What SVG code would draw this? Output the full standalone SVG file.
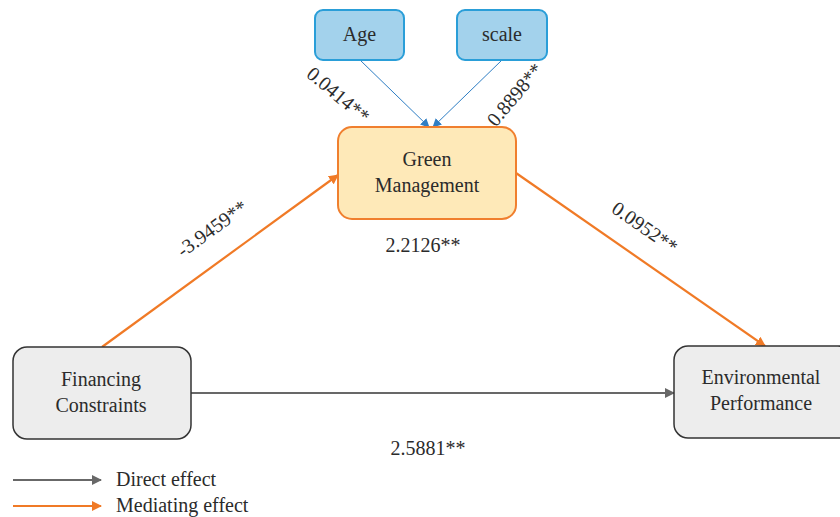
<svg xmlns="http://www.w3.org/2000/svg" width="840" height="517" viewBox="0 0 840 517">
  <style>
    text { font-family: "Liberation Serif", "Times New Roman", serif; fill: #2b2b2b; font-size: 20px; }
    .lbl { text-anchor: middle; }
    .blue { fill: #a3d2ec; stroke: #2a9ed8; stroke-width: 2; }
    .green { fill: #fee9b8; stroke: #f07f2e; stroke-width: 2; }
    .grey { fill: #ededed; stroke: #333333; stroke-width: 1.5; }
    .c-blue { stroke: #2e7ec4; stroke-width: 1; fill: none; }
    .c-orange { stroke: #f07a26; stroke-width: 2.2; fill: none; }
    .c-grey { stroke: #686868; stroke-width: 2.2; fill: none; }
  </style>
  <defs>
    <marker id="ahBlue" viewBox="0 0 10 10" refX="9" refY="5" markerWidth="9" markerHeight="9" orient="auto" markerUnits="userSpaceOnUse">
      <path d="M0,0 L10,5 L0,10 z" fill="#2e7ec4"/>
    </marker>
    <marker id="ahOrange" viewBox="0 0 10 10" refX="9" refY="5" markerWidth="10" markerHeight="10" orient="auto" markerUnits="userSpaceOnUse">
      <path d="M0,0 L10,5 L0,10 z" fill="#f07a26"/>
    </marker>
    <marker id="ahGrey" viewBox="0 0 10 10" refX="9" refY="5" markerWidth="10" markerHeight="10" orient="auto" markerUnits="userSpaceOnUse">
      <path d="M0,0 L10,5 L0,10 z" fill="#686868"/>
    </marker>
  </defs>

  <g id="connectors">
    <line class="c-blue" x1="360" y1="60" x2="429" y2="127" marker-end="url(#ahBlue)"/>
    <line class="c-blue" x1="502" y1="60" x2="433" y2="127" marker-end="url(#ahBlue)"/>
    <line class="c-orange" x1="102" y1="347" x2="338" y2="175" marker-end="url(#ahOrange)"/>
    <line class="c-orange" x1="516" y1="173" x2="765" y2="346" marker-end="url(#ahOrange)"/>
    <line class="c-grey" x1="191" y1="393" x2="674" y2="393" marker-end="url(#ahGrey)"/>
  </g>

  <g id="labels">
    <text class="lbl" transform="translate(334,100) rotate(40)">0.0414**</text>
    <text class="lbl" transform="translate(520,99) rotate(-50)">0.8898**</text>
    <text class="lbl" transform="translate(216,234) rotate(-36)">-3.9459**</text>
    <text class="lbl" transform="translate(641,233) rotate(35)">0.0952**</text>
    <text class="lbl" x="423" y="252">2.2126**</text>
    <text class="lbl" x="428" y="455">2.5881**</text>
  </g>

  <g id="age">
    <rect class="blue" x="315" y="10" width="89" height="50" rx="8"/>
    <text class="lbl" x="359.5" y="41">Age</text>
  </g>
  <g id="scale">
    <rect class="blue" x="457" y="10" width="90" height="50" rx="8"/>
    <text class="lbl" x="502" y="41">scale</text>
  </g>
  <g id="green-management">
    <rect class="green" x="338" y="127" width="178" height="92" rx="14"/>
    <text class="lbl" x="427" y="166">Green</text>
    <text class="lbl" x="427" y="192">Management</text>
  </g>
  <g id="financing-constraints">
    <rect class="grey" x="13" y="347" width="178" height="92" rx="14"/>
    <text class="lbl" x="101" y="386">Financing</text>
    <text class="lbl" x="101" y="412">Constraints</text>
  </g>
  <g id="environmental-performance">
    <rect class="grey" x="674" y="346" width="178" height="92" rx="14"/>
    <text class="lbl" x="761" y="384">Environmental</text>
    <text class="lbl" x="761" y="410">Performance</text>
  </g>

  <g id="legend">
    <line class="c-grey" x1="13" y1="480" x2="101" y2="480" marker-end="url(#ahGrey)"/>
    <text x="116" y="486">Direct effect</text>
    <line class="c-orange" x1="13" y1="506" x2="101" y2="506" marker-end="url(#ahOrange)"/>
    <text x="116" y="512">Mediating effect</text>
  </g>
</svg>
